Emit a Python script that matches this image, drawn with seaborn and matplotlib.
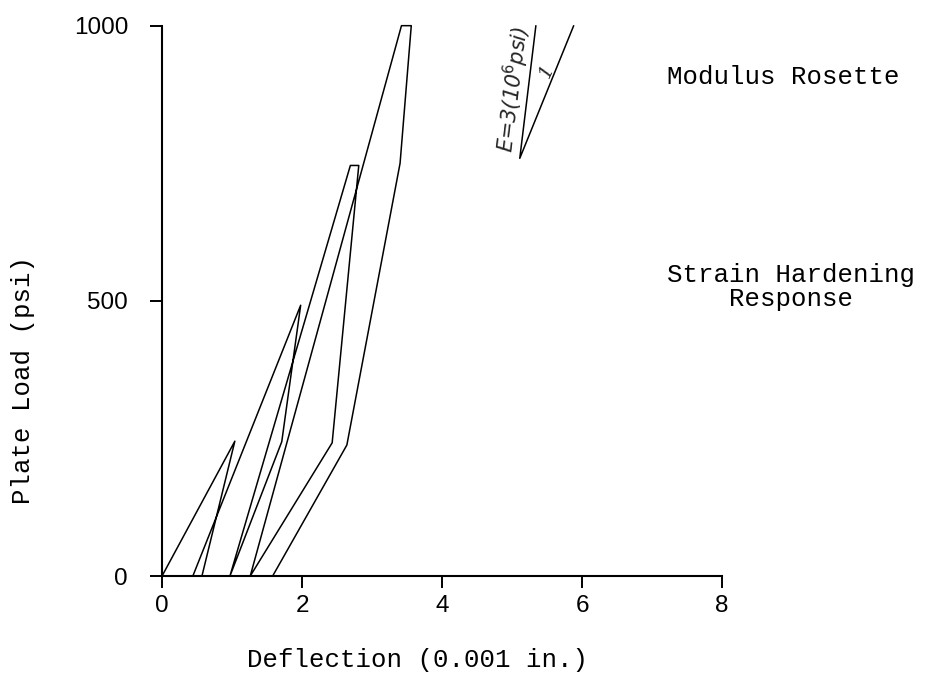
import matplotlib
matplotlib.use("Agg")
import matplotlib.pyplot as plt
import seaborn as sns
import pandas as pd

# Load-deflection path (loading / unloading cycles)
deflection = [0.00, 1.04, 0.57, 0.44, 1.98, 1.71, 0.97, 2.69, 2.81, 2.43,
              1.26, 3.42, 3.56, 3.40, 2.64, 1.58]
plate_load = [0, 245, 0, 0, 492, 244, 0, 746, 746, 242,
              0, 1000, 1000, 750, 238, 0]

# Modulus rosette reference lines
rosette_x = [5.34, 5.11, 5.88]
rosette_y = [1000, 759, 1000]

x_ticks = [0, 2, 4, 6, 8]
y_ticks = [0, 500, 1000]

sns.set_style("ticks")
plt.rcParams["font.family"] = ["Liberation Mono", "DejaVu Sans"]

fig = plt.figure(figsize=(9.26, 6.74), dpi=100)
ax = fig.add_axes([0.175, 0.1454, 0.6048, 0.8165])

path = pd.DataFrame({"Deflection": deflection, "Load": plate_load})
sns.lineplot(data=path, x="Deflection", y="Load", sort=False, estimator=None,
             color="black", linewidth=1.1, clip_on=False, ax=ax)
sns.lineplot(x=rosette_x, y=rosette_y, sort=False, estimator=None,
             color="black", linewidth=1.1, clip_on=False, ax=ax)

ax.set_xlim(0, 8)
ax.set_ylim(0, 1000)
ax.set_xticks(x_ticks)
ax.set_yticks(y_ticks)
ax.set_xticklabels([str(t) for t in x_ticks], family="Liberation Sans", fontsize=17.5)
ax.set_yticklabels([str(t) for t in y_ticks], family="Liberation Sans", fontsize=17.5)
ax.tick_params(axis="x", direction="out", length=8.5, width=1.4, pad=5, colors="black")
ax.tick_params(axis="y", direction="out", length=8.5, width=1.4, pad=16, colors="black")
sns.despine(ax=ax)
for s in ("left", "bottom"):
    ax.spines[s].set_linewidth(1.5)
    ax.spines[s].set_color("black")

ax.set_xlabel("Deflection (0.001 in.)", fontsize=18.5, color="black")
ax.set_ylabel("Plate Load (psi)", fontsize=18.5, color="black")
ax.xaxis.set_label_coords(0.456, -0.131)
ax.yaxis.set_label_coords(-0.227, 0.356)

ax.text(5.02, 885, "E=3(10$^6$psi)", rotation=83, ha="center", va="center",
        fontsize=15, style="italic", family=["DejaVu Sans"], rotation_mode="anchor")
ax.text(5.50, 918, "1", rotation=65, ha="center", va="center",
        fontsize=14, style="italic", family=["DejaVu Serif"], rotation_mode="anchor")

fig.text(783 / 926, 1 - 77 / 674, "Modulus Rosette", ha="center", va="center",
         fontsize=18.5, color="black")
fig.text(791 / 926, 1 - 287 / 674, "Strain Hardening\nResponse", ha="center",
         va="center", multialignment="center", linespacing=1.0,
         fontsize=18.5, color="black")

fig.savefig("out.png", dpi=100, facecolor="white")
